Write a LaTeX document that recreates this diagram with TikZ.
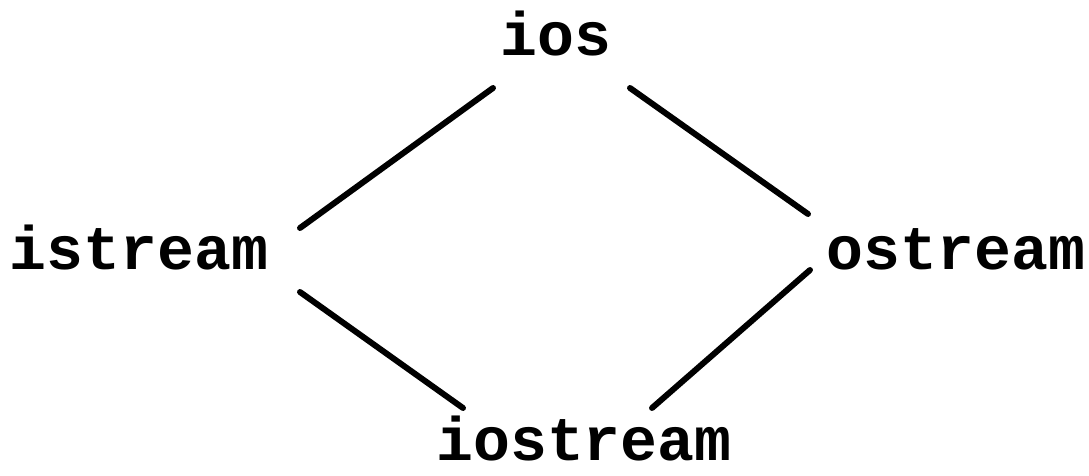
\documentclass[tikz,border=0pt]{standalone}
\usepackage{fontspec}
\setmonofont{Liberation Mono}
\begin{document}
\begin{tikzpicture}[x=0.02cm,y=-0.02cm,
  lbl/.style={font=\ttfamily\bfseries\fontsize{35}{40}\selectfont, inner sep=0pt, anchor=base},
  link/.style={line width=3.4pt, line cap=round}]
\useasboundingbox (0,0) rectangle (1089,476);
\node[lbl] (ios) at (556,56) {ios};
\node[lbl] (istream) at (139,270) {istream};
\node[lbl] (ostream) at (956,270) {ostream};
\node[lbl] (iostream) at (584,460) {iostream};
% connector end points
\coordinate (a1) at (493,88);  \coordinate (a2) at (300,228);
\coordinate (b1) at (630,88);  \coordinate (b2) at (808,214);
\coordinate (c1) at (300,292); \coordinate (c2) at (463,408);
\coordinate (d1) at (810,270); \coordinate (d2) at (652,408);
\draw[link] (a1) -- (a2);
\draw[link] (b1) -- (b2);
\draw[link] (c1) -- (c2);
\draw[link] (d1) -- (d2);
\end{tikzpicture}
\end{document}
